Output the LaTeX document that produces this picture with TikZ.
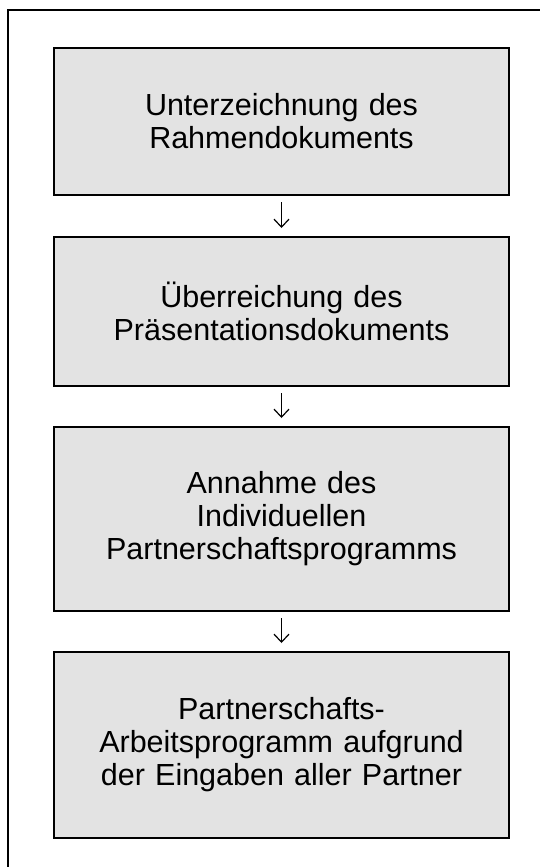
\documentclass[tikz,border=0pt]{standalone}
\usepackage{fontspec}
\setmainfont{Liberation Sans}
\usetikzlibrary{arrows.meta}
\definecolor{boxgray}{RGB}{227,227,227}

\begin{document}
\begin{tikzpicture}[x=1pt,y=-1pt,
	stage/.style={draw=black,fill=boxgray,line width=2pt,minimum width=455pt,text width=440pt,align=center,inner sep=0pt,font=\fontsize{30.5}{33}\selectfont},
	flow/.style={line width=1.2pt,-{Straight Barb[length=8pt,width=15pt,line width=1.2pt]},shorten <=6pt,shorten >=8pt}]
	\useasboundingbox (0,0) rectangle (540,867);
	
	%outer frame
	\draw[line width=2pt] (540,10) -- (8,10) -- (8,867);
	
	%boxes
	\node[stage,minimum height=147pt] (sign) at (281.5,121.5) {Unterzeichnung des\\Rahmendokuments};
	\node[stage,minimum height=149pt] (present) at (281.5,311.5) {Überreichung des\\Präsentationsdokuments};
	\node[stage,minimum height=184pt] (accept) at (281.5,519) {Annahme des\\Individuellen\\Partnerschaftsprogramms};
	\node[stage,minimum height=186pt] (work) at (281.5,745) {Partnerschafts-\\Arbeitsprogramm aufgrund\\der Eingaben aller Partner};
	
	%arrows
	\draw[flow] (sign) -- (present);
	\draw[flow] (present) -- (accept);
	\draw[flow] (accept) -- (work);
\end{tikzpicture}
\end{document}
